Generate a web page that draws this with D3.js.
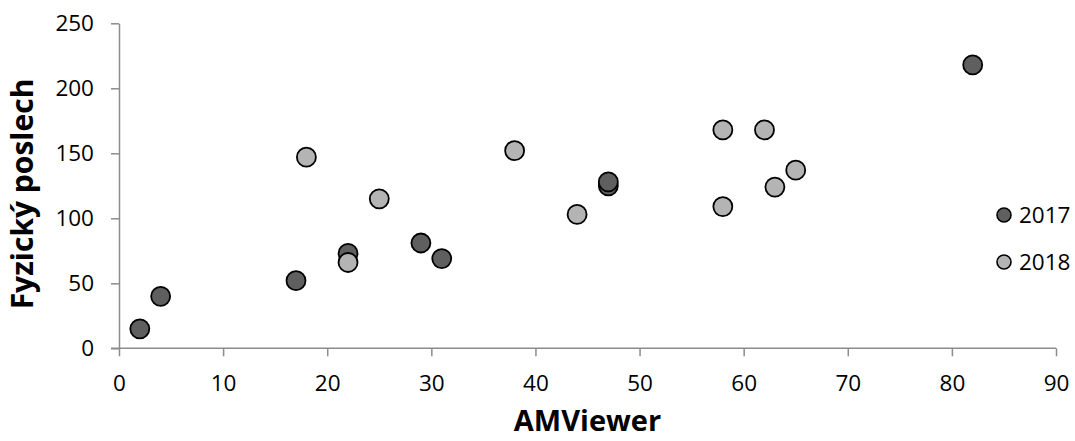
<!DOCTYPE html>
<html><head><meta charset="utf-8">
<script src="https://cdn.jsdelivr.net/npm/d3@7"></script>
<style>
html,body{margin:0;padding:0;background:#fff;}
svg{display:block;}
text{font-family:"Open Sans",sans-serif;fill:#000;}
</style></head>
<body>
<svg id="chart" width="1075" height="441"></svg>
<script>
const seriesNames = ["2017", "2018"];
const x2017 = [2, 4, 17, 22, 29, 31, 47, 47, 82];
const y2017 = [15, 40, 52, 73, 81, 69, 125, 128, 218];
const x2018 = [18, 22, 25, 38, 44, 58, 58, 62, 63, 65];
const y2018 = [147, 66, 115, 152, 103, 168, 109, 168, 124, 137];
const xTicks = [0, 10, 20, 30, 40, 50, 60, 70, 80, 90];
const yTicks = [0, 50, 100, 150, 200, 250];
const xTitle = "AMViewer";
const yTitle = "Fyzický poslech";
const fills = ["#5f5f5f", "#b4b4b4"];

const svg = d3.select("#chart");
const x = d3.scaleLinear().domain([0, 90]).range([119, 1056]);
const y = d3.scaleLinear().domain([0, 250]).range([348.3, 23.3]);
const axisColor = "#8c8c8c";

const gx = svg.append("g").attr("transform", `translate(0,${y(0)})`)
  .call(d3.axisBottom(x).tickValues(xTicks).tickSize(8).tickPadding(19).tickSizeOuter(0));
const gy = svg.append("g").attr("transform", `translate(${x(0)},0)`)
  .call(d3.axisLeft(y).tickValues(yTicks).tickSize(8).tickPadding(17).tickSizeOuter(0));
[gx, gy].forEach(g => {
  g.selectAll(".domain").attr("stroke", axisColor).attr("stroke-width", 1.5);
  g.selectAll(".tick line").attr("stroke", axisColor).attr("stroke-width", 1.5);
  g.selectAll(".tick text").attr("font-size", 22.5).attr("font-family", "Open Sans, sans-serif").attr("fill", "#000");
});
gx.select(".domain").attr("d", `M${x(0)-8},0H${x(90)}`);

const series = [
  {name: seriesNames[0], xs: x2017, ys: y2017, fill: fills[0]},
  {name: seriesNames[1], xs: x2018, ys: y2018, fill: fills[1]}
];
series.forEach(s => {
  svg.append("g").selectAll("circle").data(s.xs.map((v, i) => [v, s.ys[i]]))
    .join("circle")
    .attr("cx", d => x(d[0])).attr("cy", d => y(d[1])).attr("r", 9.5)
    .attr("fill", s.fill).attr("stroke", "#000").attr("stroke-width", 1.8);
});

const lg = svg.append("g");
series.forEach((s, i) => {
  const ly = 215 + i * 47;
  lg.append("circle").attr("cx", 1004).attr("cy", ly).attr("r", 7)
    .attr("fill", s.fill).attr("stroke", "#000").attr("stroke-width", 1.6);
  lg.append("text").attr("x", 1019).attr("y", ly).attr("dy", "0.36em")
    .attr("font-size", 22.5).text(s.name);
});

svg.append("text").attr("x", (x(0) + x(90)) / 2).attr("y", 431)
  .attr("text-anchor", "middle").attr("font-size", 29).attr("font-weight", "bold").text(xTitle);
svg.append("text").attr("transform", "translate(33,194) rotate(-90)")
  .attr("text-anchor", "middle").attr("font-size", 30).attr("font-weight", "bold").text(yTitle);
</script>
</body></html>
